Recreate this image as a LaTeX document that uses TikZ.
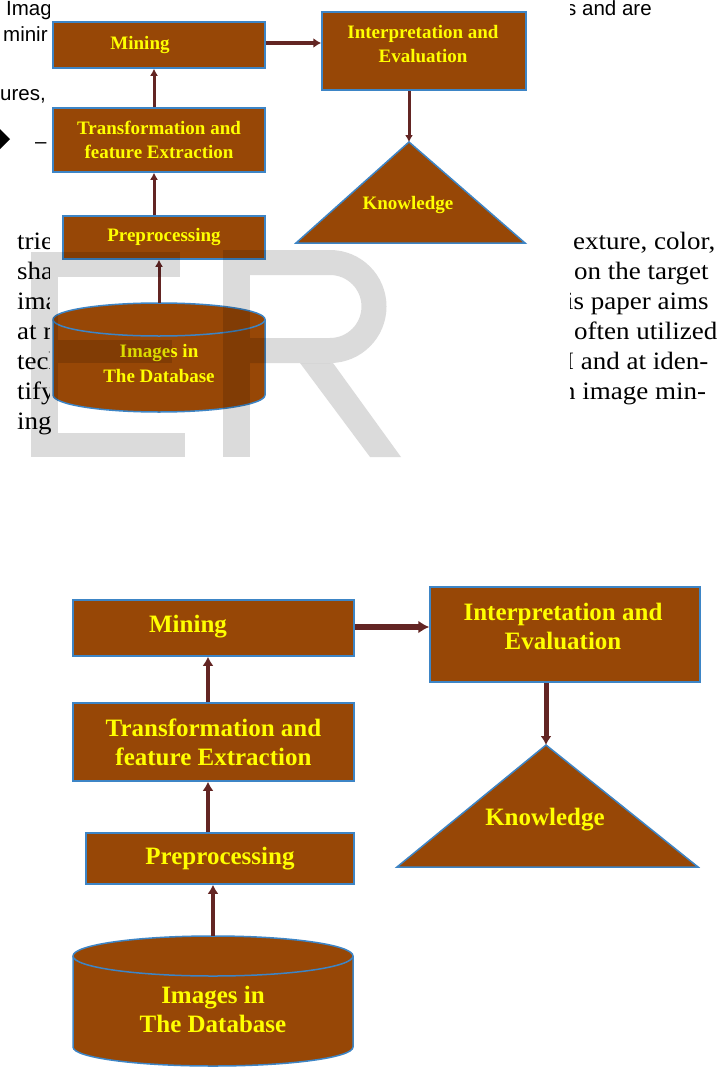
\documentclass[tikz,border=0pt]{standalone}
\usepackage{fontspec}
\setmainfont{Liberation Serif}
\newfontfamily\pagefont[FakeStretch=1.08]{Liberation Serif}
\newfontfamily\notefont{Liberation Sans}
\usetikzlibrary{arrows.meta}
\definecolor{boxbrown}{RGB}{151,71,6}
\definecolor{boxblue}{RGB}{61,133,198}
\definecolor{txtyellow}{RGB}{255,255,0}
\definecolor{arrowred}{RGB}{99,37,35}

\begin{document}
\begin{tikzpicture}[x=1pt,y=-1pt,
    box/.style={rectangle,draw=boxblue,fill=boxbrown,line width=1.5pt,inner sep=0pt},
    tri/.style={draw=boxblue,fill=boxbrown,line width=1.5pt},
    bigtxt/.style={text=txtyellow,font=\bfseries\fontsize{25}{29}\selectfont,align=center,inner sep=0pt},
    smalltxt/.style={text=txtyellow,font=\bfseries\fontsize{19}{24.5}\selectfont,align=center,inner sep=0pt},
    flowbig/.style={draw=arrowred,line width=4pt,-{Latex[length=9pt,width=11pt]}},
    flowbigh/.style={draw=arrowred,line width=6pt,-{Latex[length=11pt,width=13pt]}},
    flowsmall/.style={draw=arrowred,line width=3pt,-{Latex[length=7pt,width=8pt]}},
    flowsmallh/.style={draw=arrowred,line width=4.5pt,-{Latex[length=8pt,width=10pt]}},
    pagetxt/.style={font=\pagefont\fontsize{25}{30}\selectfont,anchor=base west,inner sep=0pt},
    notetxt/.style={font=\notefont\fontsize{20.5}{27}\selectfont,anchor=base west,inner sep=0pt}]
\useasboundingbox[fill=white] (0,0) rectangle (718,1068);

% page text around the pasted figure
\begin{scope}
  \clip (0,0) rectangle (49,460);
  \node[notetxt] (imag) at (6,15) {Imag};
  \node[notetxt] (minir) at (3,41) {minir};
  \node[notetxt] (ures) at (0,100) {ures,};
  \node[notetxt] (dash) at (35,148) {–};
  \node[pagetxt] (trie) at (17,249) {trie};
  \node[pagetxt] (sha) at (17,279) {sha};
  \node[pagetxt] (ima) at (17,309) {ima};
  \node[pagetxt] (atr) at (17,339) {at r};
  \node[pagetxt] (tech) at (17,369) {tech};
  \node[pagetxt] (tify) at (17,399) {tify};
\end{scope}
\node[pagetxt] (ing) at (17,429) {ing};
\fill (-1,128) -- (10,139) -- (-1,150) -- (-12,139) -- cycle;
\begin{scope}
  \clip (570,0) rectangle (718,460);
  \node[notetxt] (andare) at (566,15) {s and are};
  \node[pagetxt] (texture) at (573,249) {exture, color,};
  \node[pagetxt] (target) at (574,279) {on the target};
  \node[pagetxt] (aims) at (566,309) {is paper aims};
  \node[pagetxt] (often) at (574,339) {often utilized};
  \node[pagetxt] (iden) at (565,369) {I and at iden-};
  \node[pagetxt] (minus) at (562,399) {n image min-};
\end{scope}

% small figure
\node[box,minimum width=212pt,minimum height=46pt] (mining1) at (159,45) {};
\node[smalltxt] (mining1txt) at (140,45) {Mining};
\node[box,smalltxt,minimum width=212pt,minimum height=64pt] (transf1) at (159,140) {Transformation and\\feature Extraction};
\node[box,smalltxt,minimum width=202pt,minimum height=43pt] (prep1) at (164,237.5) {Preprocessing};
\node[box,minimum width=204pt,minimum height=78pt] (interp1) at (424,51) {};
\node[smalltxt] (interp1txt) at (423,44) {Interpretation and\\Evaluation};
\coordinate (k1top) at (409,142);
\filldraw[tri] (k1top) -- (525,243) -- (296,243) -- cycle;
\node[smalltxt] (know1) at (408,205) {Knowledge};
\filldraw[tri] (53,319.5) -- (53,395) arc[start angle=180,end angle=360,x radius=106pt,y radius=17pt]
  -- (265,319.5) arc[start angle=0,end angle=180,x radius=106pt,y radius=16.5pt] -- cycle;
\draw[boxblue,line width=1.5pt] (53,319.5) arc[start angle=180,end angle=360,x radius=106pt,y radius=16.5pt];
\coordinate (db1top) at (159,303);
\node[smalltxt] (db1) at (159,363.5) {Images in\\The Database};

\draw[flowsmall] (db1top) -- (db1top |- prep1.south);
\draw[flowsmall] ([xshift=-10pt]prep1.north) -- ([xshift=-5pt]transf1.south);
\draw[flowsmall] ([xshift=-5pt]transf1.north) -- ([xshift=-5pt]mining1.south);
\draw[flowsmallh] ([yshift=2pt]mining1.east) -- ([yshift=2pt]mining1.east -| interp1.west);
\draw[flowsmall] (interp1.south -| k1top) -- (k1top);

% watermark
\begin{scope}[fill opacity=0.14,draw opacity=0.14]
  \fill (31,252) rectangle (58,457);
  \fill (58,252) rectangle (180,277);
  \fill (58,340) rectangle (172,363);
  \fill (58,433) rectangle (185,457);
  \fill (223,250) rectangle (250,457);
  \draw[line width=25pt] (250,262.5) -- (330,262.5) arc[start angle=90,end angle=-90,radius=44pt] -- (250,350.5);
  \fill (300,363) -- (333,363) -- (401,457) -- (370,457) -- cycle;
\end{scope}

% large figure
\node[box,minimum width=281pt,minimum height=56pt] (mining2) at (213.5,628) {};
\node[bigtxt] (mining2txt) at (188,627) {Mining};
\node[box,bigtxt,minimum width=281pt,minimum height=78pt] (transf2) at (213.5,742) {Transformation and\\feature Extraction};
\node[box,bigtxt,minimum width=268pt,minimum height=51pt] (prep2) at (220,858.5) {Preprocessing};
\node[box,minimum width=270pt,minimum height=95pt] (interp2) at (565,634.5) {};
\node[bigtxt] (interp2txt) at (563,626) {Interpretation and\\Evaluation};
\coordinate (k2top) at (546,745);
\filldraw[tri] (k2top) -- (698,867) -- (397,867) -- cycle;
\node[bigtxt] (know2) at (545,820) {Knowledge};
\filldraw[tri] (73,956) -- (73,1047) arc[start angle=180,end angle=360,x radius=140pt,y radius=19pt]
  -- (353,956) arc[start angle=0,end angle=180,x radius=140pt,y radius=20pt] -- cycle;
\draw[boxblue,line width=1.5pt] (73,956) arc[start angle=180,end angle=360,x radius=140pt,y radius=20pt];
\coordinate (db2top) at (213,936);
\node[bigtxt] (db2) at (213,1009) {Images in\\The Database};

\draw[flowbig] (db2top) -- (db2top |- prep2.south);
\draw[flowbig] ([xshift=-12pt]prep2.north) -- ([xshift=-5.5pt]transf2.south);
\draw[flowbig] ([xshift=-5.5pt]transf2.north) -- ([xshift=-5.5pt]mining2.south);
\draw[flowbigh] ([yshift=1pt]mining2.east) -- ([yshift=1pt]mining2.east -| interp2.west);
\draw[flowbig,line width=5pt] (interp2.south -| k2top) -- (k2top);
\end{tikzpicture}
\end{document}
